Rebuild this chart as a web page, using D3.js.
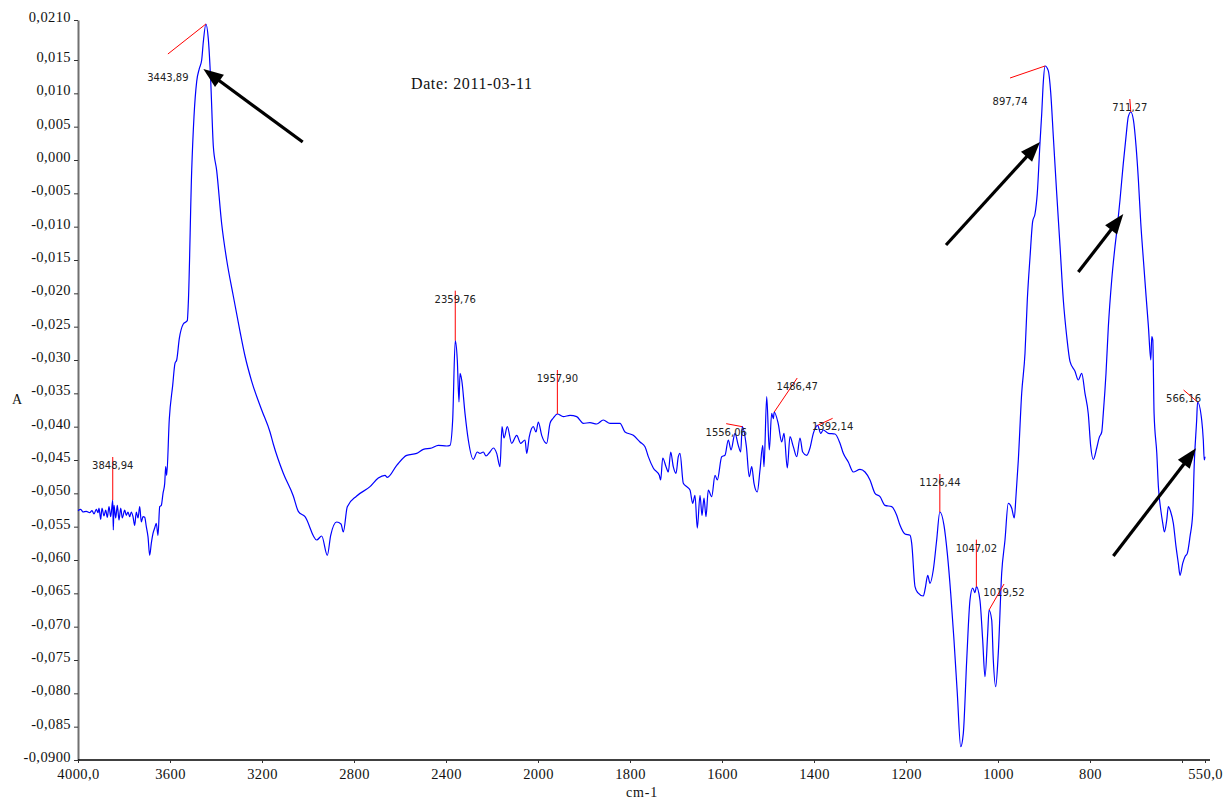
<!DOCTYPE html>
<html>
<head>
<meta charset="utf-8">
<script src="https://cdn.jsdelivr.net/npm/d3@7"></script>
<style>
  body { margin: 0; background: #fff; }
  svg { display: block; }
</style>
</head>
<body>
<svg id="chart" width="1231" height="803"></svg>
<script>
// FTIR absorbance spectrum: [wavenumber (cm-1), absorbance]
const spectrum = [
  [4000.0,-0.0526],[3988.3,-0.0524],[3978.3,-0.0528],[3963.9,-0.0527],[3949.1,-0.0529],[3939.1,-0.0526],
  [3930.4,-0.0531],[3920.4,-0.0524],[3913.0,-0.0529],[3908.7,-0.0522],[3901.3,-0.0539],[3895.7,-0.0522],
  [3887.0,-0.0534],[3879.6,-0.0525],[3872.6,-0.0536],[3865.2,-0.0520],[3857.8,-0.0535],[3848.94,-0.0510],
  [3846.5,-0.0555],[3843.5,-0.0518],[3836.1,-0.0537],[3829.1,-0.0518],[3821.7,-0.0540],[3814.3,-0.0522],
  [3807.4,-0.0537],[3796.9,-0.0525],[3790.0,-0.0533],[3782.6,-0.0528],[3775.2,-0.0535],[3768.3,-0.0528],
  [3760.9,-0.0535],[3753.5,-0.0548],[3746.5,-0.0528],[3739.1,-0.0537],[3731.7,-0.0520],[3724.8,-0.0543],
  [3717.4,-0.0535],[3710.0,-0.0536],[3703.0,-0.0550],[3695.7,-0.0565],[3688.3,-0.0593],[3681.3,-0.0575],
  [3673.9,-0.0560],[3666.5,-0.0552],[3659.6,-0.0545],[3652.2,-0.0563],[3644.8,-0.0520],[3637.8,-0.0518],
  [3630.4,-0.0500],[3623.0,-0.0485],[3618.7,-0.0460],[3614.4,-0.0473],[3603.1,-0.0389],[3588.3,-0.0338],
  [3578.3,-0.0305],[3570.9,-0.0300],[3559.6,-0.0268],[3542.2,-0.0246],[3524.8,-0.0241],[3520.4,-0.0215],
  [3505.7,-0.0016],[3495.7,0.0065],[3483.9,0.0118],[3472.6,0.0137],[3462.2,0.0150],[3455.2,0.0177],
  [3443.89,0.0204],[3433.5,0.0182],[3423.0,0.0119],[3411.7,0.0021],[3397.0,-0.0016],[3375.2,-0.0096],
  [3353.5,-0.0150],[3324.8,-0.0204],[3295.7,-0.0257],[3273.9,-0.0294],[3244.8,-0.0332],[3201.3,-0.0375],
  [3165.2,-0.0408],[3150.9,-0.0426],[3107.4,-0.0470],[3063.9,-0.0504],[3042.2,-0.0527],[3013.0,-0.0535],
  [2962.2,-0.0570],[2940.4,-0.0564],[2916.1,-0.0593],[2901.3,-0.0563],[2875.2,-0.0543],[2856.5,-0.0546],
  [2846.5,-0.0558],[2829.1,-0.0520],[2788.3,-0.0504],[2730.4,-0.0490],[2694.3,-0.0477],[2665.2,-0.0473],
  [2655.2,-0.0476],[2614.3,-0.0458],[2570.9,-0.0443],[2527.4,-0.0440],[2498.7,-0.0434],[2462.2,-0.0432],
  [2433.5,-0.0428],[2397.0,-0.0429],[2382.6,-0.0428],[2371.0,-0.0390],[2359.76,-0.0271],[2350.9,-0.0300],
  [2343.5,-0.0363],[2339.1,-0.0320],[2331.7,-0.0330],[2317.4,-0.0380],[2303.0,-0.0420],[2281.3,-0.0449],
  [2263.9,-0.0438],[2252.2,-0.0440],[2237.8,-0.0438],[2226.1,-0.0444],[2208.7,-0.0438],[2194.4,-0.0432],
  [2179.6,-0.0440],[2165.2,-0.0460],[2156.5,-0.0400],[2147.8,-0.0417],[2133.5,-0.0400],[2114.4,-0.0425],
  [2092.6,-0.0413],[2075.2,-0.0425],[2056.5,-0.0420],[2049.1,-0.0440],[2037.8,-0.0415],[2020.4,-0.0400],
  [2008.7,-0.0408],[1999.3,-0.0393],[1992.0,-0.0413],[1981.1,-0.0425],[1973.9,-0.0395],[1966.7,-0.0387],
  [1957.90,-0.0381],[1945.0,-0.0385],[1930.4,-0.0383],[1915.9,-0.0385],[1901.5,-0.0395],[1887.0,-0.0394],
  [1872.4,-0.0396],[1858.0,-0.0390],[1843.5,-0.0395],[1821.7,-0.0395],[1810.9,-0.0408],[1792.8,-0.0413],
  [1778.3,-0.0423],[1767.4,-0.0430],[1760.2,-0.0445],[1749.4,-0.0462],[1736.3,-0.0473],[1733.3,-0.0480],
  [1728.9,-0.0447],[1721.7,-0.0460],[1716.7,-0.0468],[1711.5,-0.0438],[1705.9,-0.0460],[1700.0,-0.0470],
  [1695.0,-0.0445],[1691.3,-0.0440],[1684.1,-0.0485],[1676.7,-0.0490],[1669.6,-0.0495],[1663.7,-0.0515],
  [1658.7,-0.0503],[1653.7,-0.0552],[1647.8,-0.0503],[1643.5,-0.0533],[1639.1,-0.0507],[1634.8,-0.0535],
  [1629.8,-0.0495],[1622.4,-0.0505],[1615.2,-0.0473],[1610.2,-0.0480],[1600.6,-0.0445],[1593.5,-0.0443],
  [1586.3,-0.0420],[1580.4,-0.0435],[1571.7,-0.0410],[1564.6,-0.0428],[1559.3,-0.0438],[1556.06,-0.0400],
  [1547.0,-0.0430],[1540.7,-0.0475],[1535.4,-0.0460],[1530.4,-0.0485],[1523.3,-0.0498],[1517.4,-0.0465],
  [1511.5,-0.0428],[1508.7,-0.0460],[1502.8,-0.0355],[1497.2,-0.0435],[1492.0,-0.0380],[1488.5,-0.0388],
  [1486.47,-0.0378],[1477.9,-0.0395],[1470.2,-0.0423],[1465.2,-0.0410],[1458.0,-0.0462],[1452.2,-0.0415],
  [1445.0,-0.0430],[1437.6,-0.0445],[1430.4,-0.0417],[1424.6,-0.0438],[1415.9,-0.0443],[1408.7,-0.0432],
  [1401.5,-0.0410],[1392.14,-0.0398],[1385.4,-0.0410],[1379.8,-0.0405],[1368.9,-0.0410],[1354.3,-0.0411],
  [1343.5,-0.0425],[1336.3,-0.0440],[1325.4,-0.0453],[1314.6,-0.0468],[1300.0,-0.0464],[1289.1,-0.0468],
  [1278.3,-0.0480],[1267.4,-0.0500],[1256.5,-0.0505],[1245.7,-0.0518],[1231.1,-0.0520],[1220.2,-0.0533],
  [1213.0,-0.0548],[1202.2,-0.0561],[1191.3,-0.0563],[1187.6,-0.0575],[1180.4,-0.0640],[1174.5,-0.0649],
  [1162.4,-0.0654],[1158.0,-0.0642],[1152.8,-0.0623],[1147.8,-0.0635],[1140.7,-0.0615],[1133.3,-0.0570],
  [1126.44,-0.0528],[1117.4,-0.0548],[1110.2,-0.0590],[1102.8,-0.0650],[1095.7,-0.0720],[1088.5,-0.0800],
  [1081.1,-0.0880],[1075.4,-0.0860],[1068.0,-0.0750],[1060.9,-0.0660],[1055.0,-0.0642],[1050.0,-0.0649],
  [1047.02,-0.0640],[1039.3,-0.0660],[1033.3,-0.0720],[1028.3,-0.0775],[1022.4,-0.0710],[1019.52,-0.0675],
  [1013.7,-0.0690],[1010.2,-0.0750],[1005.0,-0.0790],[999.4,-0.0740],[992.0,-0.0620],[984.8,-0.0570],
  [977.7,-0.0515],[970.3,-0.0522],[964.6,-0.0537],[960.9,-0.0504],[955.9,-0.0451],[948.5,-0.0350],
  [941.3,-0.0290],[936.3,-0.0210],[930.4,-0.0146],[924.6,-0.0092],[919.6,-0.0081],[914.6,-0.0050],
  [908.7,0.0026],[905.0,0.0069],[901.5,0.0117],[897.74,0.0141],[890.7,0.0134],[885.4,0.0101],
  [879.8,0.0036],[872.4,-0.0050],[865.2,-0.0129],[858.0,-0.0210],[850.7,-0.0264],[843.5,-0.0302],
  [832.6,-0.0317],[825.4,-0.0330],[818.0,-0.0320],[810.9,-0.0350],[803.7,-0.0381],[798.5,-0.0429],
  [792.8,-0.0449],[785.4,-0.0432],[779.8,-0.0416],[774.5,-0.0408],[771.1,-0.0380],[765.2,-0.0320],
  [760.2,-0.0251],[752.8,-0.0180],[745.7,-0.0130],[740.6,-0.0100],[734.8,-0.0060],[727.6,-0.0005],
  [721.7,0.0035],[716.7,0.0065],[711.27,0.0072],[705.6,0.0060],[699.8,0.0020],[694.8,-0.0030],
  [689.6,-0.0095],[683.9,-0.0150],[678.0,-0.0205],[673.0,-0.0250],[667.8,-0.0300],[665.7,-0.0265],
  [663.5,-0.0270],[660.7,-0.0380],[654.8,-0.0440],[651.3,-0.0490],[646.1,-0.0525],[641.8,-0.0545],
  [638.3,-0.0558],[633.2,-0.0540],[629.7,-0.0520],[624.5,-0.0528],[618.8,-0.0545],[613.0,-0.0580],
  [608.0,-0.0605],[604.3,-0.0623],[598.5,-0.0605],[593.5,-0.0595],[588.5,-0.0590],[582.6,-0.0565],
  [576.7,-0.0530],[573.3,-0.0455],[568.1,-0.0390],[566.16,-0.0363],[557.2,-0.0390],[553.7,-0.0420],
  [551.6,-0.0450],[550.0,-0.0445]
];

// Picked peaks (cm-1)
const peakWavenumbers = [3848.94, 3443.89, 2359.76, 1957.90, 1556.06, 1486.47, 1392.14,
                         1126.44, 1047.02, 1019.52, 897.74, 711.27, 566.16];

// Leader line offset from each peak [dx, dy] and label baseline offset below the leader end
const peakLeaders = [
  [0, -43, 12], [-38, 30, 27], [0, -50, 12], [0, -44, 12], [-16, -3, 12], [23, -34, 12],
  [15, -7, 12], [0, -38, 12], [0, -47, 12], [15, -26, 12], [-35, 12, 27], [-1, -13, 12],
  [-14, -12, 12]
];

// Axis ticks
const yTickValues = [0.021, 0.015, 0.010, 0.005, 0.000, -0.005, -0.010, -0.015, -0.020, -0.025,
                     -0.030, -0.035, -0.040, -0.045, -0.050, -0.055, -0.060, -0.065, -0.070,
                     -0.075, -0.080, -0.085, -0.090];
const yTickLabels = ["0,0210", "0,015", "0,010", "0,005", "0,000", "-0,005", "-0,010", "-0,015",
                     "-0,020", "-0,025", "-0,030", "-0,035", "-0,040", "-0,045", "-0,050", "-0,055",
                     "-0,060", "-0,065", "-0,070", "-0,075", "-0,080", "-0,085", "-0,0900"];
const xTickValues = [4000, 3600, 3200, 2800, 2400, 2000, 1800, 1600, 1400, 1200, 1000, 800, 600, 550];
const xTickLabels = ["4000,0", "3600", "3200", "2800", "2400", "2000", "1800", "1600", "1400",
                     "1200", "1000", "800", "", "550,0"];

// Arrows pointing at bands of interest: [tail wavenumber, tail A, tip wavenumber, tip A]
const arrows = [
  [3023, 0.0027, 3455, 0.01365],
  [1113, -0.01275, 908.7, 0.0027],
  [825.4, -0.0168, 727.6, -0.0081],
  [749.3, -0.0594, 569.6, -0.04325]
];

const svg = d3.select("#chart");

// Wavenumber axis is expanded twofold below 2000 cm-1
const x = d3.scaleLinear().domain([4000, 2000, 550]).range([78, 538, 1205]);
const y = d3.scaleLinear().domain([-0.09, 0.021]).range([760, 20]);

const serif = "'Liberation Serif', 'Times New Roman', serif";

// Y axis
const yAxis = svg.append("g")
  .attr("transform", "translate(78,0)")
  .call(d3.axisLeft(y).tickValues(yTickValues).tickFormat((d, i) => yTickLabels[i])
    .tickSize(4).tickSizeOuter(0).tickPadding(3));
yAxis.attr("font-family", null);
yAxis.select(".domain").attr("stroke", "#707070").attr("stroke-width", 2);
yAxis.selectAll(".tick line").attr("stroke", "#333");
yAxis.selectAll(".tick text")
  .attr("dy", "0.1em")
  .attr("fill", "#111")
  .style("font-family", serif)
  .style("font-size", "14.5px")
  .style("letter-spacing", "0.4px");

// X axis
const xAxis = svg.append("g")
  .attr("transform", "translate(0,760)")
  .call(d3.axisBottom(x).tickValues(xTickValues).tickFormat((d, i) => xTickLabels[i])
    .tickSize(3).tickSizeOuter(0).tickPadding(6));
xAxis.attr("font-family", null);
xAxis.select(".domain").attr("stroke", "#000").attr("stroke-width", 1.6)
  .attr("d", "M78,0H1210");
xAxis.selectAll(".tick line").attr("stroke", "#333");
xAxis.selectAll(".tick text")
  .attr("fill", "#111")
  .style("font-family", serif)
  .style("font-size", "14.5px")
  .style("letter-spacing", "0.4px");

// Axis titles
svg.append("text").attr("x", 12).attr("y", 404)
  .style("font-family", serif).style("font-size", "14px").attr("fill", "#111").text("A");
svg.append("text").attr("x", 626).attr("y", 797)
  .style("font-family", serif).style("font-size", "14px").style("letter-spacing", "0.8px")
  .attr("fill", "#111").text("cm-1");

// Date stamp
svg.append("text").attr("x", 411).attr("y", 89)
  .style("font-family", serif).style("font-size", "16px").style("letter-spacing", "0.6px")
  .attr("fill", "#111").text("Date: 2011-03-11");

// Spectrum trace
const line = d3.line().x(d => x(d[0])).y(d => y(d[1])).curve(d3.curveMonotoneX);
svg.append("path")
  .datum(spectrum)
  .attr("fill", "none")
  .attr("stroke", "#0000ff")
  .attr("stroke-width", 1.2)
  .attr("stroke-linejoin", "round")
  .attr("d", line);

// Peak markers with leader lines and labels
const peaks = peakWavenumbers.map((wn, i) => {
  const pt = spectrum.find(d => d[0] === wn);
  return { wn, a: pt[1], leader: peakLeaders[i] };
});
const peakG = svg.append("g");
peakG.selectAll("line").data(peaks).join("line")
  .attr("x1", d => x(d.wn)).attr("y1", d => y(d.a))
  .attr("x2", d => x(d.wn) + d.leader[0]).attr("y2", d => y(d.a) + d.leader[1])
  .attr("stroke", "#ff0000").attr("stroke-width", 1);
peakG.selectAll("text").data(peaks).join("text")
  .attr("x", d => x(d.wn) + d.leader[0])
  .attr("y", d => y(d.a) + d.leader[1] + d.leader[2])
  .attr("text-anchor", "middle")
  .attr("fill", "#222")
  .style("font-family", "'DejaVu Sans', Verdana, sans-serif")
  .style("font-size", "10px")
  .text(d => d.wn.toFixed(2).replace(".", ","));

// Arrows
const arrowG = svg.append("g");
arrows.forEach(([w0, a0, w1, a1]) => {
  const x0 = x(w0), y0 = y(a0), x1 = x(w1), y1 = y(a1);
  const len = Math.hypot(x1 - x0, y1 - y0);
  const ux = (x1 - x0) / len, uy = (y1 - y0) / len;
  const headL = 20, headW = 7.5;
  const bx = x1 - ux * headL, by = y1 - uy * headL;
  arrowG.append("line")
    .attr("x1", x0).attr("y1", y0)
    .attr("x2", x1 - ux * headL * 0.7).attr("y2", y1 - uy * headL * 0.7)
    .attr("stroke", "#000").attr("stroke-width", 3.2);
  arrowG.append("polygon")
    .attr("points", [[x1, y1], [bx - uy * headW, by + ux * headW], [bx + uy * headW, by - ux * headW]]
      .map(p => p.join(",")).join(" "))
    .attr("fill", "#000");
});
</script>
</body>
</html>
